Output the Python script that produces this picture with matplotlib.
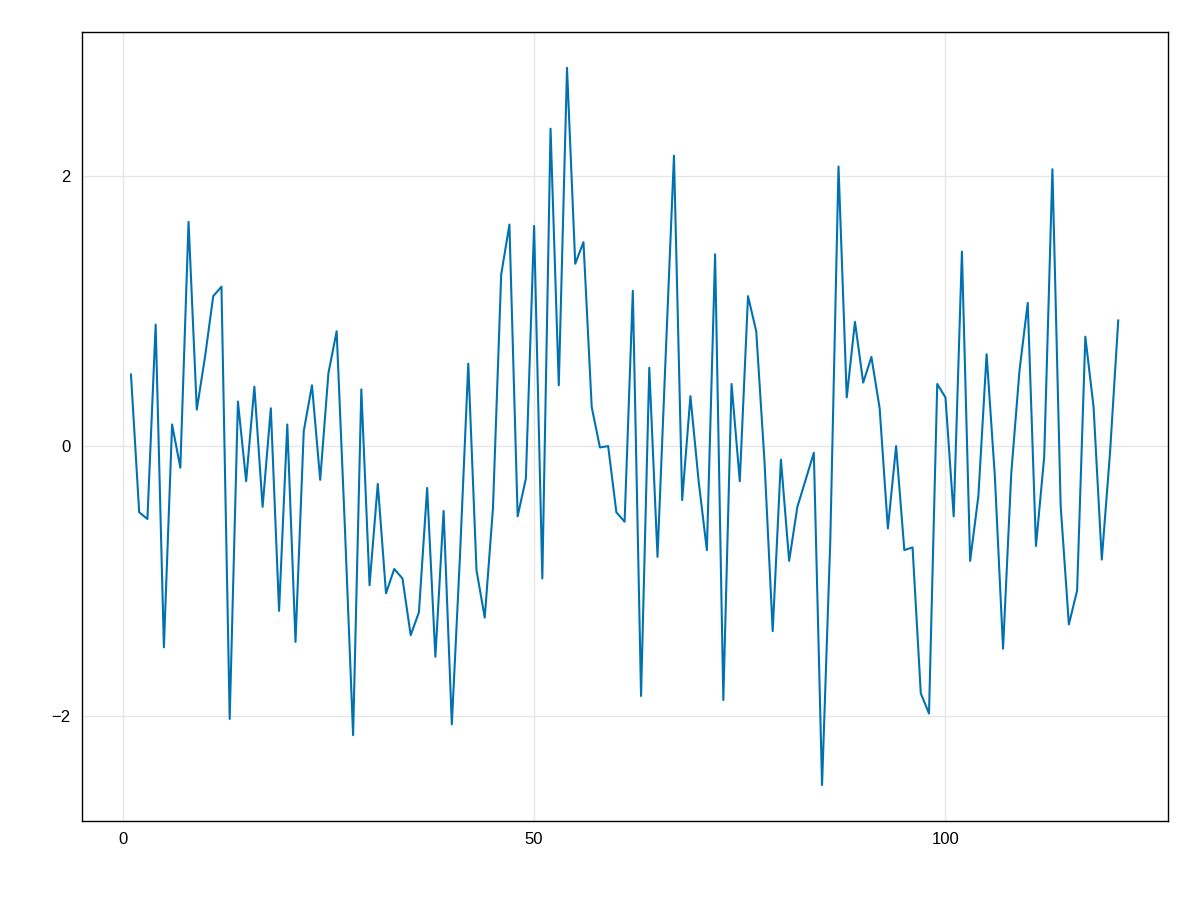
import matplotlib
matplotlib.use("Agg")
import matplotlib.pyplot as plt
import numpy as np

x = list(range(1, 122))
y = [0.53, -0.49, -0.54, 0.90, -1.49, 0.16, -0.16, 1.66, 0.27, 0.66,
     1.11, 1.18, -2.02, 0.33, -0.26, 0.44, -0.45, 0.28, -1.22, 0.16,
     -1.45, 0.11, 0.45, -0.25, 0.54, 0.85, -0.60, -2.14, 0.42, -1.03,
     -0.28, -1.09, -0.91, -0.98, -1.40, -1.23, -0.31, -1.56, -0.48, -2.06,
     -0.80, 0.61, -0.92, -1.27, -0.46, 1.27, 1.64, -0.52, -0.24, 1.63,
     -0.98, 2.35, 0.45, 2.80, 1.35, 1.51, 0.29, -0.01, 0.00, -0.49,
     -0.56, 1.15, -1.85, 0.58, -0.82, 0.68, 2.15, -0.40, 0.37, -0.26,
     -0.77, 1.42, -1.88, 0.46, -0.26, 1.11, 0.85, -0.11, -1.37, -0.10,
     -0.85, -0.45, -0.25, -0.05, -2.51, -0.70, 2.07, 0.36, 0.92, 0.47,
     0.66, 0.28, -0.61, 0.00, -0.77, -0.75, -1.83, -1.98, 0.46, 0.36,
     -0.52, 1.44, -0.85, -0.37, 0.68, -0.22, -1.50, -0.20, 0.56, 1.06,
     -0.74, -0.08, 2.05, -0.44, -1.32, -1.07, 0.81, 0.29, -0.84, -0.05,
     0.93]
xticks = [0, 50, 100]
yticks = [-2, 0, 2]

plt.rcParams['font.family'] = ['Liberation Sans', 'DejaVu Sans']
fig = plt.figure(figsize=(12, 9), dpi=100)
ax = fig.add_axes([0.068, 0.0878, 0.905, 0.8766])
ax.plot(x, y, color='#0072B2', lw=1.5)
ax.margins(x=0.05, y=0.05)
ax.set_xticks(xticks)
ax.set_yticks(yticks)
ax.set_yticklabels(['\u22122', '0', '2'])
ax.grid(True, color='#e6e6e6', lw=1)
ax.set_axisbelow(True)
ax.tick_params(length=0, labelsize=12, pad=8)
for s in ax.spines.values():
    s.set_linewidth(1.0)
fig.savefig('out.png', dpi=100)
